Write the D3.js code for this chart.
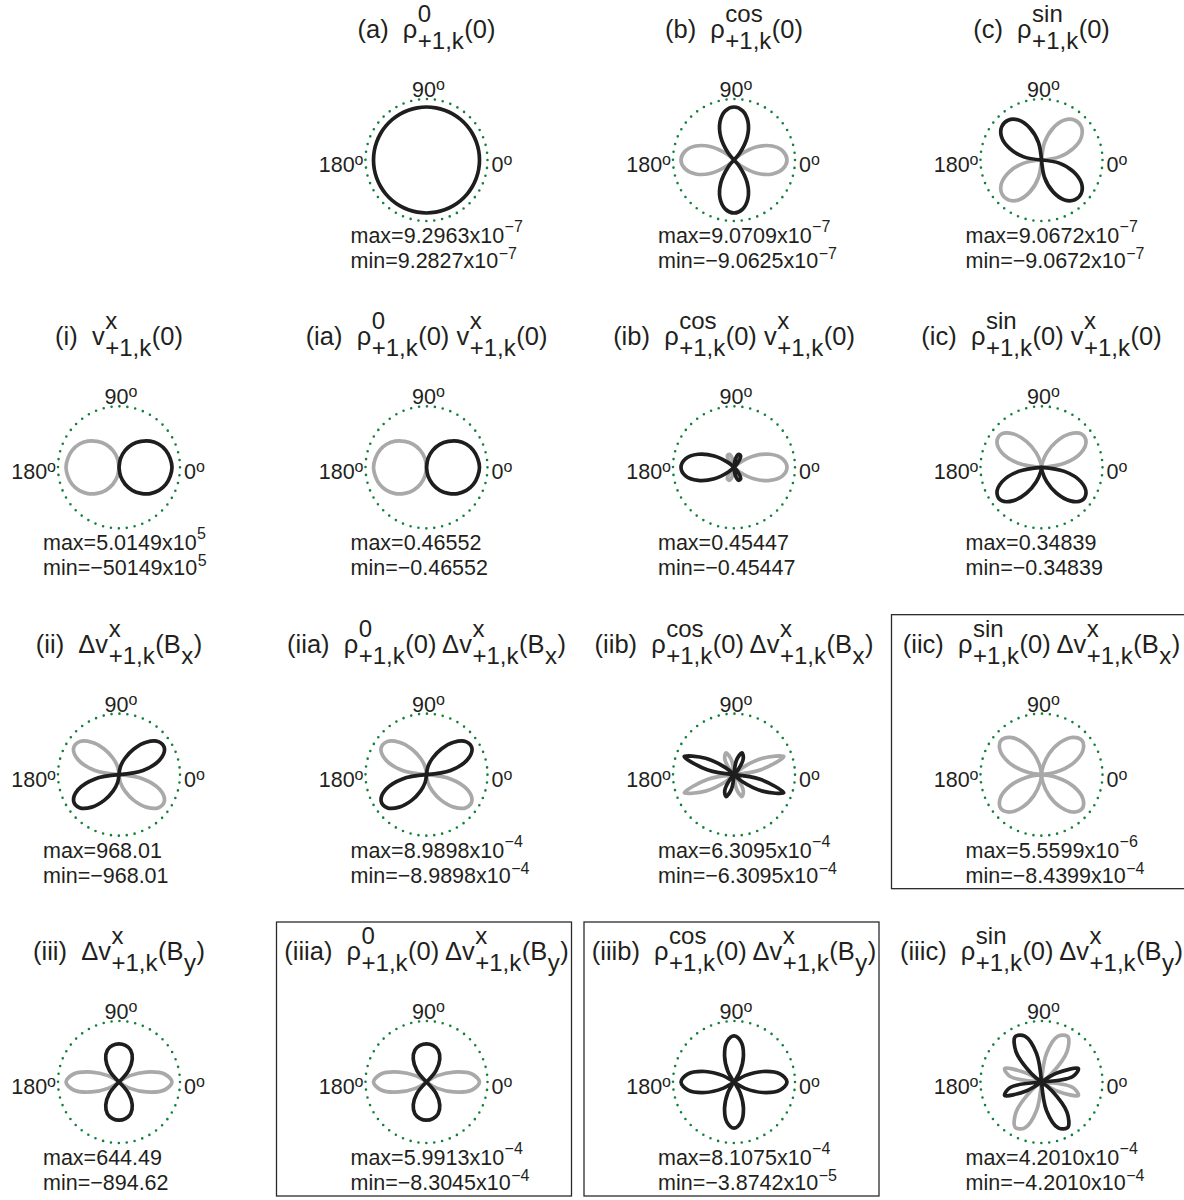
<!DOCTYPE html>
<html>
<head>
<meta charset="utf-8">
<script src="https://cdn.jsdelivr.net/npm/d3@7"></script>
<style>
  body { margin: 0; background: #fff; }
  svg text { font-family: "Liberation Sans", Arial, Helvetica, sans-serif; fill: #231f20; white-space: pre; }
</style>
</head>
<body>
<div id="chart"></div>
<script>
// polar sample angles (degrees, counter-clockwise from 0)
const sampleAngles = [0, 10, 20, 30, 40, 50, 60, 70, 80, 90, 100, 110, 120, 130, 140, 150, 160, 170,
  180, 190, 200, 210, 220, 230, 240, 250, 260, 270, 280, 290, 300, 310, 320, 330, 340, 350];

// signed values, scaled so the largest magnitude of each panel is 1
const valsA = [1, 1, 1, 1, 1, 1, 1, 1, 1, 1, 1, 1, 1, 1, 1, 1, 1, 1,
  1, 1, 1, 1, 1, 1, 1, 1, 1, 1, 1, 1, 1, 1, 1, 1, 1, 1];
const valsB = [-1, -0.94, -0.77, -0.5, -0.17, 0.17, 0.5, 0.77, 0.94, 1, 0.94, 0.77, 0.5, 0.17, -0.17, -0.5, -0.77, -0.94,
  -1, -0.94, -0.77, -0.5, -0.17, 0.17, 0.5, 0.77, 0.94, 1, 0.94, 0.77, 0.5, 0.17, -0.17, -0.5, -0.77, -0.94];
const valsC = [0, -0.34, -0.64, -0.87, -0.98, -0.98, -0.87, -0.64, -0.34, 0, 0.34, 0.64, 0.87, 0.98, 0.98, 0.87, 0.64, 0.34,
  0, -0.34, -0.64, -0.87, -0.98, -0.98, -0.87, -0.64, -0.34, 0, 0.34, 0.64, 0.87, 0.98, 0.98, 0.87, 0.64, 0.34];
const valsI = [1, 0.98, 0.94, 0.87, 0.77, 0.64, 0.5, 0.34, 0.17, 0, -0.17, -0.34, -0.5, -0.64, -0.77, -0.87, -0.94, -0.98,
  -1, -0.98, -0.94, -0.87, -0.77, -0.64, -0.5, -0.34, -0.17, 0, 0.17, 0.34, 0.5, 0.64, 0.77, 0.87, 0.94, 0.98];
const valsIA = [1, 0.98, 0.94, 0.87, 0.77, 0.64, 0.5, 0.34, 0.17, 0, -0.17, -0.34, -0.5, -0.64, -0.77, -0.87, -0.94, -0.98,
  -1, -0.98, -0.94, -0.87, -0.77, -0.64, -0.5, -0.34, -0.17, 0, 0.17, 0.34, 0.5, 0.64, 0.77, 0.87, 0.94, 0.98];
const valsIB = [-1, -0.93, -0.72, -0.43, -0.13, 0.11, 0.25, 0.26, 0.16, 0, -0.16, -0.26, -0.25, -0.11, 0.13, 0.43, 0.72, 0.93,
  1, 0.93, 0.72, 0.43, 0.13, -0.11, -0.25, -0.26, -0.16, 0, 0.16, 0.26, 0.25, 0.11, -0.13, -0.43, -0.72, -0.93];
const valsIC = [0, -0.44, -0.79, -0.97, -0.98, -0.82, -0.56, -0.29, -0.08, 0, -0.08, -0.29, -0.56, -0.82, -0.98, -0.97, -0.79, -0.44,
  0, 0.44, 0.79, 0.97, 0.98, 0.82, 0.56, 0.29, 0.08, 0, 0.08, 0.29, 0.56, 0.82, 0.98, 0.97, 0.79, 0.44];
const valsII = [0, 0.46, 0.82, 0.99, 0.97, 0.8, 0.56, 0.33, 0.15, 0, -0.15, -0.33, -0.56, -0.8, -0.97, -0.99, -0.82, -0.46,
  0, 0.46, 0.82, 0.99, 0.97, 0.8, 0.56, 0.33, 0.15, 0, -0.15, -0.33, -0.56, -0.8, -0.97, -0.99, -0.82, -0.46];
const valsIIA = [0, 0.46, 0.82, 0.99, 0.97, 0.8, 0.56, 0.33, 0.15, 0, -0.15, -0.33, -0.56, -0.8, -0.97, -0.99, -0.82, -0.46,
  0, 0.46, 0.82, 0.99, 0.97, 0.8, 0.56, 0.33, 0.15, 0, -0.15, -0.33, -0.56, -0.8, -0.97, -0.99, -0.82, -0.46];
const valsIIB = [0, -0.5, -1, -0.62, -0.2, 0.12, 0.35, 0.44, 0.28, 0, -0.28, -0.44, -0.35, -0.12, 0.2, 0.62, 1, 0.5,
  0, -0.5, -1, -0.62, -0.2, 0.12, 0.35, 0.44, 0.28, 0, -0.28, -0.44, -0.35, -0.12, 0.2, 0.62, 1, 0.5];
const valsIIC = [0, -0.28, -0.64, -0.9, -1, -0.92, -0.7, -0.42, -0.15, 0, -0.15, -0.42, -0.7, -0.92, -1, -0.9, -0.64, -0.28,
  0, -0.28, -0.64, -0.9, -1, -0.92, -0.7, -0.42, -0.15, 0, -0.15, -0.42, -0.7, -0.92, -1, -0.9, -0.64, -0.28];
const valsIII = [-1, -0.87, -0.55, -0.24, -0.03, 0.28, 0.5, 0.64, 0.7, 0.72, 0.7, 0.64, 0.5, 0.28, -0.03, -0.24, -0.55, -0.87,
  -1, -0.87, -0.55, -0.24, -0.03, 0.28, 0.5, 0.64, 0.7, 0.72, 0.7, 0.64, 0.5, 0.28, -0.03, -0.24, -0.55, -0.87];
const valsIIIA = [-1, -0.87, -0.55, -0.24, -0.03, 0.28, 0.5, 0.64, 0.7, 0.72, 0.7, 0.64, 0.5, 0.28, -0.03, -0.24, -0.55, -0.87,
  -1, -0.87, -0.55, -0.24, -0.03, 0.28, 0.5, 0.64, 0.7, 0.72, 0.7, 0.64, 0.5, 0.28, -0.03, -0.24, -0.55, -0.87];
const valsIIIB = [1, 0.88, 0.58, 0.24, 0.03, 0.03, 0.23, 0.52, 0.77, 0.87, 0.77, 0.52, 0.23, 0.03, 0.03, 0.24, 0.58, 0.88,
  1, 0.88, 0.58, 0.24, 0.03, 0.03, 0.23, 0.52, 0.77, 0.87, 0.77, 0.52, 0.23, 0.03, 0.03, 0.24, 0.58, 0.88];
const valsIIIC = [0, 0.6, 0.74, 0.35, -0.25, -0.75, -0.99, -0.92, -0.55, 0, 0.55, 0.92, 0.99, 0.75, 0.25, -0.35, -0.74, -0.6,
  0, 0.6, 0.74, 0.35, -0.25, -0.75, -0.99, -0.92, -0.55, 0, 0.55, 0.92, 0.99, 0.75, 0.25, -0.35, -0.74, -0.6];

const panelKeys = ["a", "b", "c", "i", "ia", "ib", "ic", "ii", "iia", "iib", "iic", "iii", "iiia", "iiib", "iiic"];
const panelTitles = [
  "(a)  ρ^{0}_{+1,k}(0)",
  "(b)  ρ^{cos}_{+1,k}(0)",
  "(c)  ρ^{sin}_{+1,k}(0)",
  "(i)  v^{x}_{+1,k}(0)",
  "(ia)  ρ^{0}_{+1,k}(0) v^{x}_{+1,k}(0)",
  "(ib)  ρ^{cos}_{+1,k}(0) v^{x}_{+1,k}(0)",
  "(ic)  ρ^{sin}_{+1,k}(0) v^{x}_{+1,k}(0)",
  "(ii)  Δv^{x}_{+1,k}(B_{x})",
  "(iia)  ρ^{0}_{+1,k}(0) Δv^{x}_{+1,k}(B_{x})",
  "(iib)  ρ^{cos}_{+1,k}(0) Δv^{x}_{+1,k}(B_{x})",
  "(iic)  ρ^{sin}_{+1,k}(0) Δv^{x}_{+1,k}(B_{x})",
  "(iii)  Δv^{x}_{+1,k}(B_{y})",
  "(iiia)  ρ^{0}_{+1,k}(0) Δv^{x}_{+1,k}(B_{y})",
  "(iiib)  ρ^{cos}_{+1,k}(0) Δv^{x}_{+1,k}(B_{y})",
  "(iiic)  ρ^{sin}_{+1,k}(0) Δv^{x}_{+1,k}(B_{y})"
];
const maxLabels = [
  "max=9.2963x10^{−7}", "max=9.0709x10^{−7}", "max=9.0672x10^{−7}",
  "max=5.0149x10^{5}", "max=0.46552", "max=0.45447", "max=0.34839",
  "max=968.01", "max=8.9898x10^{−4}", "max=6.3095x10^{−4}", "max=5.5599x10^{−6}",
  "max=644.49", "max=5.9913x10^{−4}", "max=8.1075x10^{−4}", "max=4.2010x10^{−4}"
];
const minLabels = [
  "min=9.2827x10^{−7}", "min=−9.0625x10^{−7}", "min=−9.0672x10^{−7}",
  "min=−50149x10^{5}", "min=−0.46552", "min=−0.45447", "min=−0.34839",
  "min=−968.01", "min=−8.9898x10^{−4}", "min=−6.3095x10^{−4}", "min=−8.4399x10^{−4}",
  "min=−894.62", "min=−8.3045x10^{−4}", "min=−3.8742x10^{−5}", "min=−4.2010x10^{−4}"
];
const boxedPanels = ["iic", "iiia", "iiib"];
const angleLabels = ["90^{o}", "180^{o}", "0^{o}"];

const panelValues = [valsA, valsB, valsC, valsI, valsIA, valsIB, valsIC,
  valsII, valsIIA, valsIIB, valsIIC, valsIII, valsIIIA, valsIIIB, valsIIIC];

const width = 1184, height = 1200;
const R = 61;
const colX = d3.scaleLinear().domain([0, 3]).range([119, 1041.5]);
const rowY = d3.scaleLinear().domain([0, 3]).range([160, 1082]);
const rScale = d3.scaleLinear().domain([0, 1]).range([0, 53]);
const aScale = d3.scaleLinear().domain([0, 360]).range([Math.PI / 2, Math.PI / 2 - 2 * Math.PI]);

const svg = d3.select("#chart").append("svg")
  .attr("width", width)
  .attr("height", height);

// small TeX-like text: ^{..} superscript, _{..} subscript, stacked when both
function richText(g, str, size, smallSize, supDy, subDy, gap) {
  const re = /\^\{([^}]*)\}(?:_\{([^}]*)\})?|_\{([^}]*)\}|[^^_]+/g;
  let m, x = 0;
  while ((m = re.exec(str))) {
    if (m[0][0] === "^" || m[0][0] === "_") {
      const parts = m[0][0] === "^" ? [[m[1], supDy], [m[2], subDy]] : [[m[3], subDy]];
      let w = 0;
      x += gap;
      parts.forEach(([t, dy]) => {
        if (!t) return;
        const el = g.append("text").attr("x", x).attr("y", dy)
          .attr("font-size", smallSize).text(t);
        w = Math.max(w, el.node().getComputedTextLength());
      });
      x += w + gap;
    } else {
      const el = g.append("text").attr("x", x).attr("font-size", size).text(m[0]);
      x += el.node().getComputedTextLength();
    }
  }
  return x;
}

function signRuns(vals) {
  const n = vals.length;
  const s = vals.map(v => v > 0 ? 1 : v < 0 ? -1 : 0);
  const start = s.findIndex((d, i) => d !== s[(i - 1 + n) % n]);
  if (start < 0) return [{ sign: s[0], idx: d3.range(n), closed: true }];
  const runs = [];
  let cur = null;
  for (let k = 0; k < n; k++) {
    const i = (start + k) % n;
    if (!cur || s[i] !== cur.sign) { cur = { sign: s[i], idx: [], closed: false }; runs.push(cur); }
    cur.idx.push(i);
  }
  return runs.filter(r => r.sign !== 0);
}

const lobeLine = d3.lineRadial()
  .angle(d => aScale(d.a))
  .radius(d => rScale(d.r))
  .curve(d3.curveCatmullRom.alpha(0.5));
const loopLine = d3.lineRadial()
  .angle(d => aScale(d.a))
  .radius(d => rScale(d.r))
  .curve(d3.curveCatmullRomClosed.alpha(0.5));

panelKeys.forEach((key, k) => {
  const row = k < 3 ? 0 : 1 + Math.floor((k - 3) / 4);
  const col = k < 3 ? k + 1 : (k - 3) % 4;
  const cx = colX(col), cy = rowY(row);
  const panel = svg.append("g").attr("class", "panel panel-" + key);

  if (boxedPanels.includes(key)) {
    panel.append("rect")
      .attr("x", cx - 150).attr("y", cy - 160)
      .attr("width", 295).attr("height", 274)
      .attr("fill", "none").attr("stroke", "#2b2b2b").attr("stroke-width", 1.3);
  }

  const plot = panel.append("g").attr("transform", "translate(" + cx + "," + cy + ")");
  plot.append("circle")
    .attr("r", R)
    .attr("fill", "none")
    .attr("stroke", "#12803c")
    .attr("stroke-width", 2.6)
    .attr("stroke-linecap", "round")
    .attr("stroke-dasharray", "0 " + (2 * Math.PI * R / 48));

  const vals = panelValues[k];
  const runs = signRuns(vals).sort((a, b) => a.sign - b.sign);
  runs.forEach(run => {
    const pts = run.idx.map(i => ({ a: sampleAngles[i], r: Math.abs(vals[i]) }));
    if (!run.closed) {
      pts.unshift({ a: pts[0].a, r: 0 });
      pts.push({ a: pts[pts.length - 1].a, r: 0 });
    }
    plot.append("path")
      .attr("d", run.closed ? loopLine(pts) : lobeLine(pts))
      .attr("fill", "none")
      .attr("stroke", run.sign > 0 ? "#1e1e1e" : "#a9a9a9")
      .attr("stroke-width", 3.7)
      .attr("stroke-linejoin", "round")
      .attr("stroke-linecap", "round");
  });

  // angle labels
  const top = plot.append("g");
  const topW = richText(top, angleLabels[0], 21.5, 16, -7, 0, 0);
  top.attr("transform", "translate(" + (-topW / 2 + 2) + "," + (-R - 2) + ")");
  const left = plot.append("g");
  const leftW = richText(left, angleLabels[1], 21.5, 16, -7, 0, 0);
  left.attr("transform", "translate(" + (-R - 2 - leftW) + ",12)");
  const right = plot.append("g");
  richText(right, angleLabels[2], 21.5, 16, -7, 0, 0);
  right.attr("transform", "translate(" + (R + 4) + ",12)");

  // max / min
  const maxG = panel.append("g").attr("transform", "translate(" + (cx - 76) + "," + (cy + 83) + ")");
  richText(maxG, maxLabels[k], 21.5, 16, -11, 0, 0.5);
  const minG = panel.append("g").attr("transform", "translate(" + (cx - 76) + "," + (cy + 108) + ")");
  richText(minG, minLabels[k], 21.5, 16, -9, 0, 0.5);

  // title
  const titleG = panel.append("g");
  const tw = richText(titleG, panelTitles[k], 25.5, 24, -16, 11, 0.5);
  titleG.attr("transform", "translate(" + (cx - tw / 2) + "," + (cy - 122) + ")");
});
</script>
</body>
</html>
